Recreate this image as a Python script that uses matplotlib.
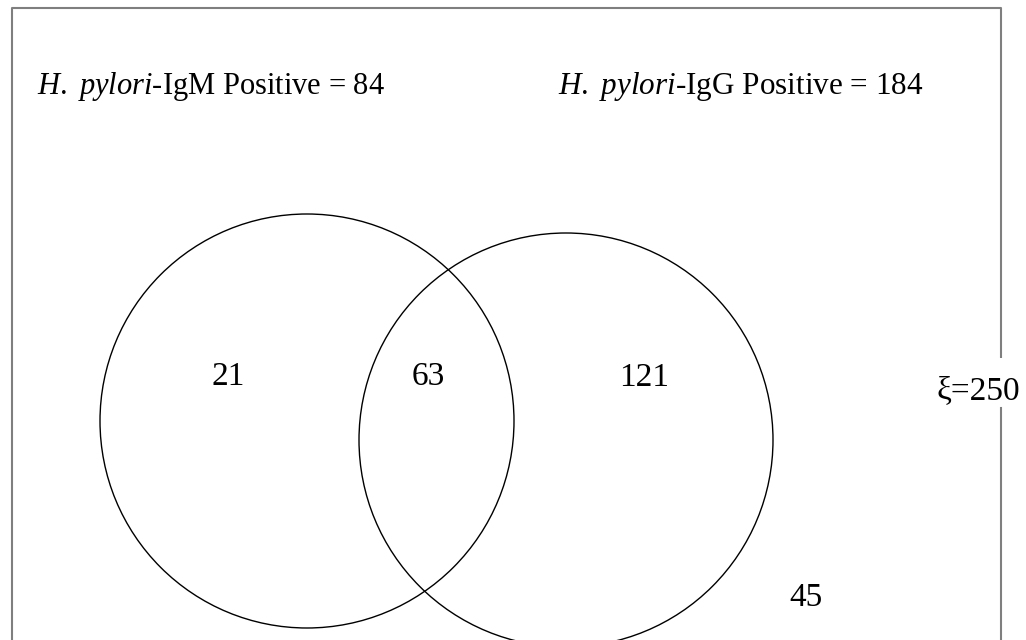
import matplotlib
matplotlib.use("Agg")
import matplotlib.pyplot as plt
from matplotlib.patches import Circle

# Data
set_names = ["IgM", "IgG"]
set_totals = [84, 184]
region_labels = ["IgM only", "Both", "IgG only", "Neither"]
region_counts = [21, 63, 121, 45]
universe_total = 250

plt.rcParams['font.family'] = ['Liberation Serif', 'DejaVu Serif']
plt.rcParams['mathtext.fontset'] = 'custom'
plt.rcParams['mathtext.it'] = 'Liberation Serif:italic'
plt.rcParams['mathtext.rm'] = 'Liberation Serif'

W, H = 1026, 640
fig = plt.figure(figsize=(W / 100, H / 100), dpi=100)
ax = fig.add_axes([0, 0, 1, 1])
ax.set_xlim(0, W)
ax.set_ylim(H, 0)
ax.set_aspect('equal')
ax.axis('off')

# frame
fc = '#7f7f7f'
ax.plot([12, 12, 1001, 1001], [H + 5, 8, 8, 358], color=fc, lw=1.5, solid_capstyle='butt')
ax.plot([1001, 1001], [408, H + 5], color=fc, lw=1.5)

# circles
r = 207
ax.add_patch(Circle((307, 421), r, fill=False, ec='black', lw=1.0))
ax.add_patch(Circle((566, 440), r, fill=False, ec='black', lw=1.0))

tfs = 22
ax.text(37, 94, f"$\\mathit{{H.}}$ $\\mathit{{pylori}}$-{set_names[0]} Positive = {set_totals[0]}",
        fontsize=tfs, va='baseline', ha='left')
ax.text(558, 94, f"$\\mathit{{H.}}$ $\\mathit{{pylori}}$-{set_names[1]} Positive = {set_totals[1]}",
        fontsize=22.4, va='baseline', ha='left')

fs = 24
ax.text(228, 385, str(region_counts[0]), fontsize=fs, ha='center', va='baseline')
ax.text(428, 385, str(region_counts[1]), fontsize=fs, ha='center', va='baseline')
ax.text(644, 386, str(region_counts[2]), fontsize=fs, ha='center', va='baseline')
ax.text(806, 606, str(region_counts[3]), fontsize=fs, ha='center', va='baseline')
ax.text(978, 399, f"ξ={universe_total}", fontsize=fs, ha='center', va='baseline')

fig.savefig("out.png", dpi=100)
